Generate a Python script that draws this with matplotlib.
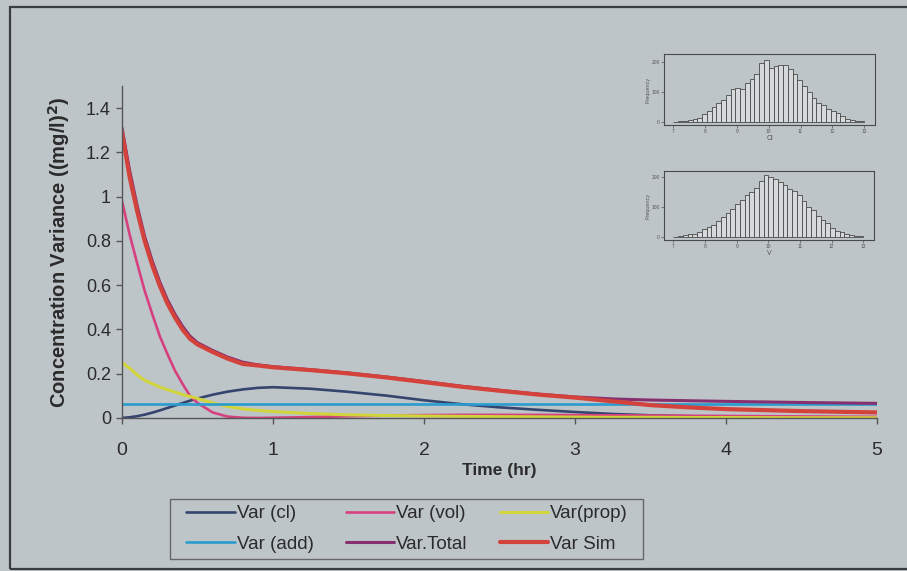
import matplotlib
matplotlib.use("Agg")
import matplotlib.pyplot as plt
import matplotlib.patches as mpatches
import numpy as np

# ---------------- data ----------------
time_hr = [0, 0.05, 0.1, 0.15, 0.2, 0.25, 0.3, 0.35, 0.4, 0.45, 0.5, 0.6, 0.7, 0.8, 0.9,
           1.0, 1.25, 1.5, 1.75, 2.0, 2.25, 2.5, 2.75, 3.0, 3.25, 3.5, 3.75, 4.0, 4.5, 5.0]

var_cl = [0, 0.003, 0.008, 0.015, 0.024, 0.034, 0.045, 0.056, 0.067, 0.078, 0.088, 0.105, 0.119,
          0.129, 0.136, 0.139, 0.132, 0.118, 0.101, 0.080, 0.062, 0.048, 0.037, 0.027, 0.018,
          0.012, 0.008, 0.005, 0.002, 0.001]
var_vol = [0.98, 0.83, 0.70, 0.575, 0.47, 0.37, 0.29, 0.215, 0.155, 0.10, 0.068, 0.025, 0.006,
           0.001, 0.0, 0.001, 0.004, 0.008, 0.011, 0.013, 0.014, 0.014, 0.014, 0.013, 0.012,
           0.011, 0.010, 0.009, 0.007, 0.005]
var_prop = [0.25, 0.225, 0.195, 0.17, 0.155, 0.14, 0.128, 0.117, 0.106, 0.097, 0.088, 0.068,
            0.052, 0.041, 0.034, 0.029, 0.020, 0.014, 0.011, 0.009, 0.007, 0.006, 0.005, 0.004,
            0.003, 0.003, 0.002, 0.002, 0.001, 0.001]
var_add = [0.065] * 30
var_total = [1.31, 1.12, 0.96, 0.82, 0.71, 0.615, 0.535, 0.47, 0.415, 0.37, 0.34, 0.305, 0.275,
             0.252, 0.24, 0.232, 0.218, 0.203, 0.185, 0.165, 0.143, 0.125, 0.108, 0.095, 0.086,
             0.081, 0.078, 0.075, 0.070, 0.066]
var_sim = [1.29, 1.09, 0.935, 0.80, 0.69, 0.597, 0.518, 0.455, 0.40, 0.358, 0.332, 0.298, 0.268,
           0.244, 0.237, 0.229, 0.216, 0.201, 0.183, 0.162, 0.141, 0.123, 0.106, 0.092, 0.075,
           0.058, 0.048, 0.040, 0.031, 0.025]

series_labels = ["Var (cl)", "Var (vol)", "Var(prop)", "Var (add)", "Var.Total", "Var Sim"]

# histogram insets (bin edges 7..13, width 0.15)
hist_edges = [7.0 + 0.15 * i for i in range(41)]
cl_counts = [2, 3, 5, 9, 12, 14, 28, 38, 50, 62, 72, 90, 108, 112, 108, 128, 142, 158, 196, 206,
             180, 184, 188, 190, 176, 160, 140, 120, 100, 80, 62, 58, 45, 38, 30, 20, 12, 8, 5, 3]
v_counts = [2, 4, 6, 9, 12, 18, 26, 35, 40, 55, 68, 80, 95, 110, 125, 140, 150, 165, 188, 206,
            200, 195, 185, 175, 160, 155, 140, 120, 100, 90, 70, 58, 48, 32, 22, 18, 12, 8, 5, 3]
hist_xticks = [7, 8, 9, 10, 11, 12, 13]
hist_yticks = [0, 100, 200]

# ---------------- style ----------------
BG = "#bec5c9"
TXT = "#2b2b2b"
colors = ["#34456e", "#d6407f", "#d2d43c", "#2a9ccf", "#87306f", "#d4423c"]
widths = [1.9, 1.9, 2.2, 1.9, 2.2, 3.0]

plt.rcParams["font.family"] = ["Liberation Sans", "DejaVu Sans"]

fig = plt.figure(figsize=(9.07, 5.71), dpi=100, facecolor=BG)

ax = fig.add_axes([0.1345, 0.268, 0.8325, 0.5816])
ax.set_facecolor(BG)

all_series = [var_cl, var_vol, var_prop, var_add, var_total, var_sim]
handles = []
for s, lab, c, w in zip(all_series, series_labels, colors, widths):
    h, = ax.plot(time_hr, s, color=c, lw=w, label=lab, solid_capstyle="round",
                 solid_joinstyle="round")
    handles.append(h)

ax.set_xlim(0, 5)
ax.set_ylim(0, 1.5)
ax.set_xticks([0, 1, 2, 3, 4, 5])
ax.set_yticks([0, 0.2, 0.4, 0.6, 0.8, 1.0, 1.2, 1.4])
ax.set_yticklabels(["0", "0.2", "0.4", "0.6", "0.8", "1", "1.2", "1.4"])
for sp in ["top", "right"]:
    ax.spines[sp].set_visible(False)
for sp in ["left", "bottom"]:
    ax.spines[sp].set_color("#555555")
    ax.spines[sp].set_linewidth(1.0)
ax.tick_params(axis="both", direction="out", length=4, width=1, color="#555555",
               labelcolor=TXT)
ax.tick_params(axis="x", pad=13, labelsize=14)
ax.tick_params(axis="y", pad=4, labelsize=13)

ax.set_xlabel("Time (hr)", fontsize=12.5, fontweight="bold", color=TXT, labelpad=3)
ax.set_ylabel("Concentration Variance ((mg/l)$^\\mathbf{2}$)", fontsize=14.5,
              fontweight="bold", color=TXT, labelpad=10)

# legend: row1 cl, vol, prop ; row2 add, total, sim
order = [0, 3, 1, 4, 2, 5]
leg = fig.legend([handles[i] for i in order], [series_labels[i] for i in order],
                 ncol=3, loc="center", bbox_to_anchor=(186 / 907, 12 / 571, 442 / 907, 60 / 571),
                 bbox_transform=fig.transFigure, mode="expand", fontsize=13.5,
                 frameon=False, handlelength=2.6, handletextpad=0.1,
                 borderaxespad=0, borderpad=0, labelspacing=0.72, columnspacing=1.0)
for t in leg.get_texts():
    t.set_color(TXT)
# legend frame
fig.patches.append(mpatches.Rectangle((170 / 907, 12 / 571), 473 / 907, 60 / 571,
                                      transform=fig.transFigure, facecolor="none",
                                      edgecolor="#666666", linewidth=1.0, zorder=5))

# histogram insets
def inset(rect, counts, xlabel, ylim):
    a = fig.add_axes(rect)
    a.set_facecolor(BG)
    a.hist(hist_edges[:-1], bins=hist_edges, weights=counts, facecolor="#d6d9da",
           edgecolor="#4a4a4a", linewidth=0.6)
    a.set_xlim(6.7, 13.35)
    a.set_ylim(*ylim)
    a.set_xticks(hist_xticks)
    a.set_yticks(hist_yticks)
    a.tick_params(labelsize=3.5, length=2, width=0.5, colors="#555555", pad=1)
    a.set_xlabel(xlabel, fontsize=5, color="#555555", labelpad=0.5)
    a.set_ylabel("Frequency", fontsize=4, color="#555555", labelpad=1)
    for sp in a.spines.values():
        sp.set_color("#4a4a4a")
        sp.set_linewidth(0.8)
    return a

inset([0.732, 0.781, 0.233, 0.124], cl_counts, "Cl", (-9, 224))
inset([0.732, 0.580, 0.232, 0.120], v_counts, "V", (-9, 220))

# outer border
fig.patches.append(mpatches.Rectangle((9.5 / 907, 2 / 571), 1.0, (571 - 9) / 571,
                                      transform=fig.transFigure, fill=False,
                                      edgecolor="#3a3d40", linewidth=1.6, zorder=10))

fig.savefig("out.png", dpi=100, facecolor=BG)
